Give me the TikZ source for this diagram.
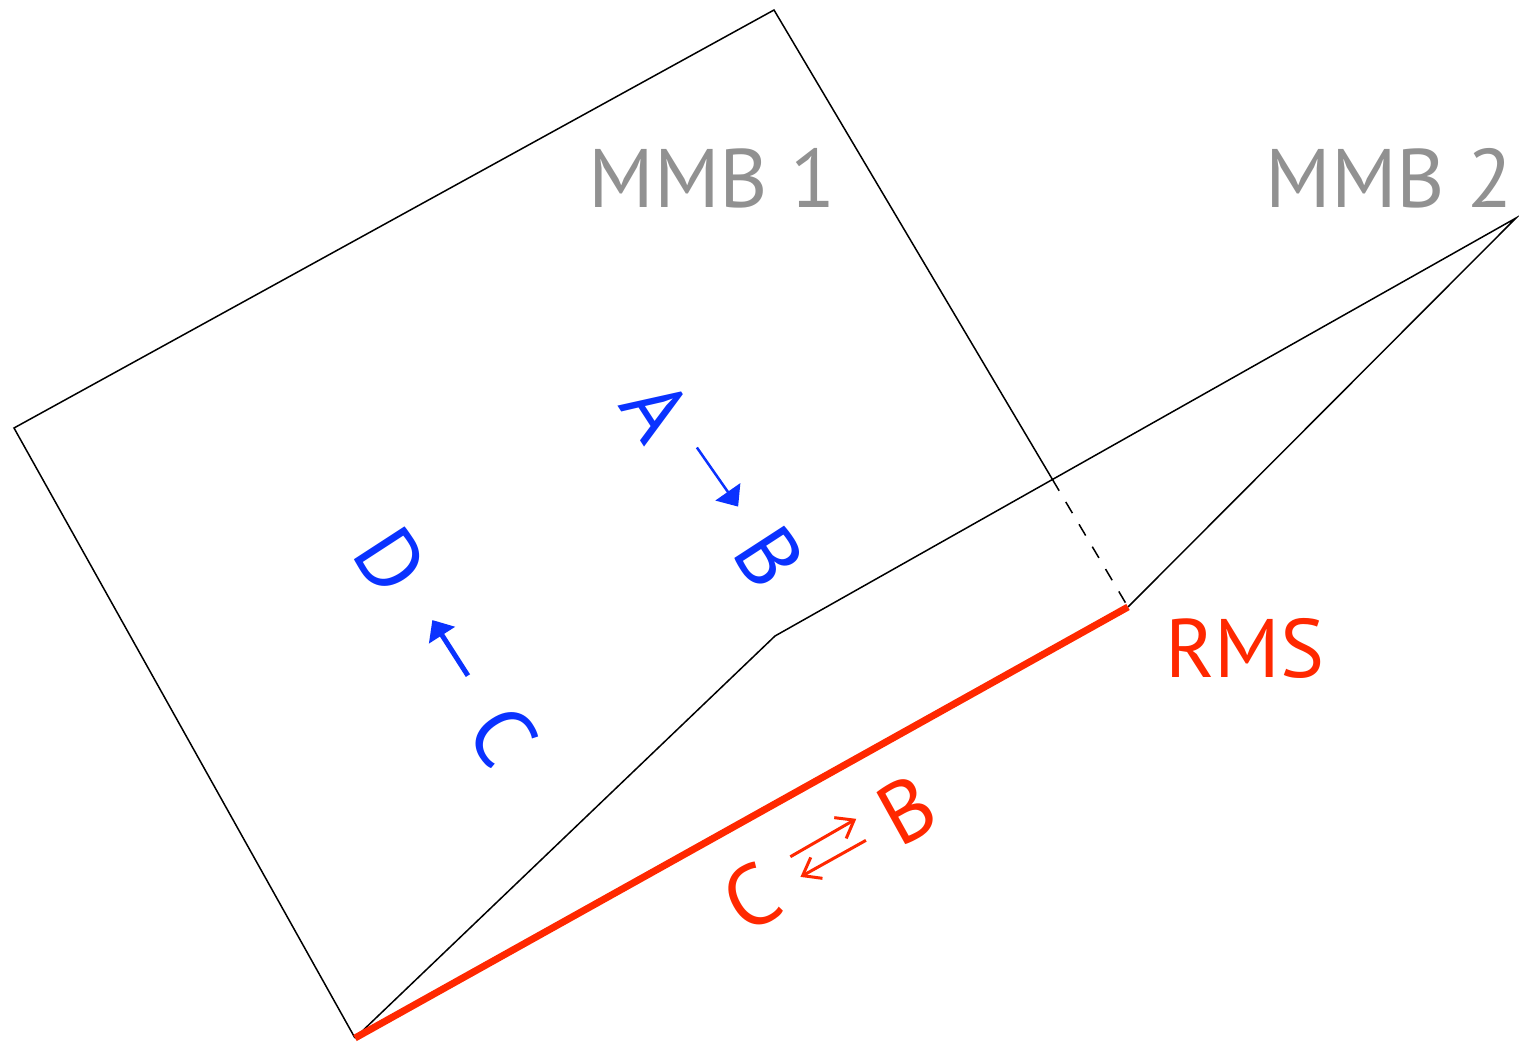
\documentclass[tikz,border=0pt]{standalone}
\usepackage{fontspec}
\setmainfont{PT Sans}
\usetikzlibrary{arrows.meta,calc}
\definecolor{mgray}{RGB}{145,145,145}
\definecolor{mblue}{RGB}{10,50,255}
\definecolor{mred}{RGB}{255,40,0}
\begin{document}
\begin{tikzpicture}[x=1pt,y=-1pt,
  edge/.style={line width=1.5pt,black},
  dashedge/.style={line width=1.5pt,black,dash pattern=on 13pt off 13pt},
  redge/.style={line width=7pt,mred},
  biglabel/.style={inner sep=0pt,font=\fontsize{86}{86}\selectfont},
  widelabel/.style={inner sep=0pt,font=\fontsize{83}{83}\selectfont},
  graylabel/.style={widelabel,text=mgray},
  bluelabel/.style={biglabel,text=mblue,rotate=-57},
  redlabel/.style={biglabel,text=mred},
  bluearrowthin/.style={mblue,line width=2.5pt,-{Triangle[length=18pt,width=30pt]}},
  bluearrowthick/.style={mblue,line width=5pt,-{Triangle[length=18pt,width=30pt]}},
  redarrow/.style={mred,line width=3pt,-{Straight Barb[length=16pt,width=24pt]}}
]
\useasboundingbox (0,0) rectangle (1519,1044);
% corners
\coordinate (T) at (774,10);
\coordinate (L) at (14,428);
\coordinate (Bt) at (355,1038);
\coordinate (R) at (1128,607);
\coordinate (K) at (775,636);
\coordinate (P) at (1516,218);
\coordinate (X) at (intersection of T--R and K--P);
% MMB 1
\draw[edge] (X) -- (T) -- (L) -- (Bt);
\draw[dashedge] (X) -- (R);
% MMB 2
\draw[edge] (Bt) -- (K) -- (P) -- (R);
% RMS
\draw[redge] (Bt) -- (R);
% labels
\node[graylabel] (m1) at (712,178) {MMB 1};
\node[graylabel] (m2) at (1389,178) {MMB 2};
\node[widelabel,text=mred] (rms) at (1245,648) {RMS};
% blue
\node[bluelabel] (A) at (657,410) {A};
\node[bluelabel] (B) at (769,557) {B};
\node[bluelabel] (D) at (391,561) {D};
\node[bluelabel] (C) at (503,736) {C};
\draw[bluearrowthin] ($(A)!54pt!(B)!9pt!90:(B)$) -- ($(A)!126pt!(B)!6pt!90:(B)$);
\draw[bluearrowthick] ($(D)!138pt!(C)!3pt!90:(C)$) -- ($(D)!72pt!(C)!3pt!90:(C)$);
% red
\node[redlabel,rotate=29] (rc) at (751,897) {C};
\node[redlabel,rotate=29] (rb) at (907,810) {B};
\draw[redarrow] ($(rc)!54pt!(rb)!16pt!90:(rb)$) -- ($(rc)!130pt!(rb)!17pt!90:(rb)$);
\draw[redarrow] ($(rc)!128pt!(rb)!6.5pt!-90:(rb)$) -- ($(rc)!53pt!(rb)!6.5pt!-90:(rb)$);
\end{tikzpicture}
\end{document}
